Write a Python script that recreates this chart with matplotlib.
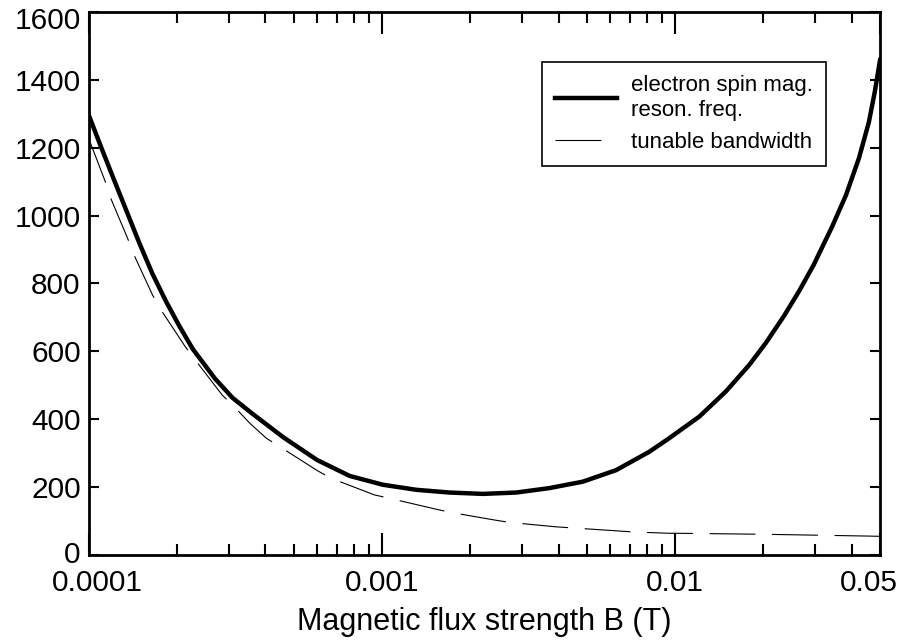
import numpy as np
import matplotlib
matplotlib.use('Agg')
import matplotlib.pyplot as plt
import matplotlib.ticker as mticker
from matplotlib.transforms import ScaledTranslation

# values
B_res = [1.0e-4, 1.084e-4, 1.204e-4, 1.337e-4, 1.484e-4, 1.648e-4, 1.83e-4, 2.03e-4,
         2.26e-4, 2.69e-4, 3.09e-4, 3.59e-4, 4.6e-4, 6.0e-4, 7.75e-4, 1.006e-3,
         1.31e-3, 1.70e-3, 2.21e-3, 2.87e-3, 3.72e-3, 4.84e-3, 6.29e-3, 8.16e-3,
         9.54e-3, 1.21e-2, 1.49e-2, 1.79e-2, 2.04e-2, 2.35e-2, 2.65e-2, 2.97e-2,
         3.43e-2, 3.83e-2, 4.24e-2, 4.58e-2, 4.80e-2, 5.0e-2]
f_res = [1295, 1216, 1116, 1018, 920, 828, 748, 676,
         607, 520, 463, 418, 347, 280, 233, 207,
         192, 184, 180, 184, 197, 216, 250, 304,
         344, 408, 482, 560, 625, 704, 778, 855,
         967, 1061, 1170, 1275, 1365, 1458]

B_bw = [1e-4, 1.018e-4, 1.137e-4, 1.18e-4, 1.355e-4, 1.416e-4, 1.648e-4, 1.746e-4,
        2.13e-4, 2.28e-4, 2.85e-4, 3.13e-4, 3.54e-4, 4.03e-4, 4.48e-4, 6.03e-4,
        6.7e-4, 9.42e-4, 1.06e-3, 1.51e-3, 1.70e-3, 2.42e-3, 2.72e-3, 3.92e-3,
        4.41e-3, 6.35e-3, 7.1e-3, 9.5e-3, 1.0e-2, 2.0e-2, 4.36e-2, 5.0e-2]
bw = [1223, 1208, 1100, 1056, 933, 889, 766, 727,
      614, 580, 471, 437, 388, 344, 319, 248,
      226, 177, 167, 136, 126, 103, 96, 83,
      80, 71, 68, 64, 64, 61, 56, 55]

xticks = [1e-4, 1e-3, 1e-2, 5e-2]
xtick_labels = ['0.0001', '0.001', '0.01', '0.05']
yticks = [0, 200, 400, 600, 800, 1000, 1200, 1400, 1600]

plt.rcParams['font.family'] = ['Liberation Sans', 'DejaVu Sans']
plt.rcParams['lines.scale_dashes'] = False

fig = plt.figure(figsize=(9.06, 6.43), dpi=100)
ax = fig.add_axes([0.0982, 0.1369, 0.8731, 0.8444])

ax.plot(B_res, f_res, color='black', lw=3.2, label='electron spin mag.\nreson. freq.')
ax.plot(B_bw, bw, color='black', lw=0.8, dashes=(33, 12), label='tunable bandwidth')

ax.set_xscale('log')
ax.set_xlim(1e-4, 5e-2)
ax.set_ylim(0, 1600)
ax.set_xticks(xticks)
ax.set_xticklabels(xtick_labels)
ax.xaxis.set_minor_locator(mticker.LogLocator(base=10, subs=np.arange(2, 10), numticks=20))
ax.xaxis.set_minor_formatter(mticker.NullFormatter())
ax.set_yticks(yticks)

ax.tick_params(axis='x', which='major', direction='in', length=15.8, width=1.5,
               top=True, labelsize=21.5, pad=10)
ax.tick_params(axis='x', which='minor', direction='in', length=7.9, width=1.5, top=True)
ax.tick_params(axis='y', direction='in', length=7.2, width=1.5, right=True,
               labelsize=21.5, pad=6)
for s in ax.spines.values():
    s.set_linewidth(2)

# end labels are pushed inside like in the original
def nudge(lbl, dx, dy):
    lbl.set_transform(lbl.get_transform() + ScaledTranslation(dx/72, dy/72, fig.dpi_scale_trans))

xl = ax.get_xticklabels()
nudge(xl[0], 6.1, 0)
nudge(xl[-1], -7.9, 0)
yl = ax.get_yticklabels()
nudge(yl[0], 0, 2.2)
nudge(yl[-1], 0, -4.5)

ax.set_xlabel('Magnetic flux strength B (T)', fontsize=22, labelpad=7)

leg = ax.legend(loc='upper right', bbox_to_anchor=(0.932, 0.908), borderaxespad=0,
                fontsize=16, fancybox=False, edgecolor='black', framealpha=1,
                handlelength=2.75, handletextpad=0.65, borderpad=0.6, labelspacing=0.5)
leg.get_frame().set_linewidth(1.2)

fig.savefig('out.png', dpi=100)
